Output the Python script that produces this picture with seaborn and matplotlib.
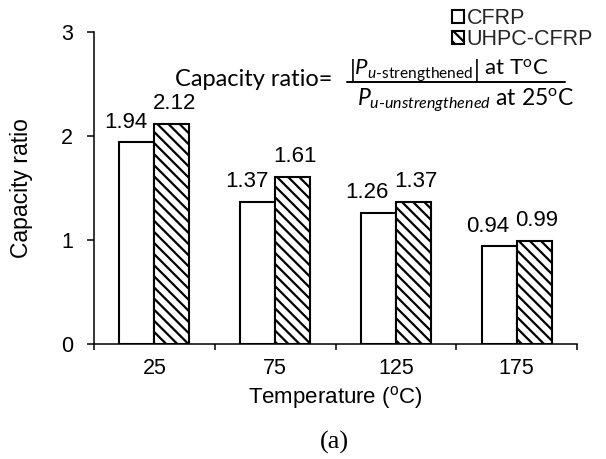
import matplotlib
matplotlib.use("Agg")
import matplotlib.pyplot as plt
import matplotlib.patches as mpatches
from matplotlib.lines import Line2D
import pandas as pd
import seaborn as sns

temperatures = ["25", "75", "125", "175"]
cfrp = [1.94, 1.37, 1.26, 0.94]
uhpc_cfrp = [2.12, 1.61, 1.37, 0.99]
series_names = ["CFRP", "UHPC-CFRP"]
y_ticks = [0, 1, 2, 3]

sns.set_theme(style="white")
plt.rcParams["font.family"] = ["Liberation Sans", "DejaVu Sans"]
plt.rcParams["mathtext.fontset"] = "custom"
plt.rcParams["mathtext.rm"] = "Lato"
plt.rcParams["mathtext.it"] = "Lato:italic"
plt.rcParams["hatch.linewidth"] = 1.6
plt.rcParams["hatch.color"] = "black"

df = pd.DataFrame({
    "Temperature": temperatures * 2,
    "ratio": cfrp + uhpc_cfrp,
    "Series": [series_names[0]] * len(cfrp) + [series_names[1]] * len(uhpc_cfrp),
})

W, H = 606, 459
fig = plt.figure(figsize=(W / 100, H / 100), dpi=100)
ax = fig.add_axes([94 / W, 1 - 344 / H, (577 - 94) / W, (344 - 32) / H])

sns.barplot(data=df, x="Temperature", y="ratio", hue="Series",
            order=temperatures, hue_order=series_names,
            palette=["white", "white"], saturation=1, edgecolor="black",
            linewidth=1.5, width=0.58, gap=0, legend=False, ax=ax)

hatch = "\\\\\\"
for bar in ax.containers[1]:
    bar.set_hatch(hatch)

# value labels, nudged sideways so neighbouring numbers don't collide
label_shift = [-8, 2]
for cont, dx in zip(ax.containers, label_shift):
    anns = ax.bar_label(cont, labels=[f"{v:.2f}" for v in cont.datavalues],
                        padding=7, fontsize=16, color="black")
    for a in anns:
        a.xyann = (dx, 7)

ax.set_ylim(0, 3)
ax.set_yticks(y_ticks)
ax.set_xlim(-0.5, len(temperatures) - 0.5)
ax.set_xticks([i - 0.5 for i in range(len(temperatures) + 1)], minor=True)
ax.tick_params(axis="x", which="major", length=0, pad=10, labelsize=15.5, colors="black")
ax.tick_params(axis="x", which="minor", length=4.5, width=1.1, direction="out", color="black", bottom=True)
ax.tick_params(axis="y", length=5, width=1.1, direction="out", pad=10, labelsize=15.5, colors="black", left=True)

for s in ["top", "right"]:
    ax.spines[s].set_visible(False)
for s in ["left", "bottom"]:
    ax.spines[s].set_color("black")
    ax.spines[s].set_linewidth(1.1)

ax.set_ylabel("Capacity ratio", fontsize=16.5, color="black", labelpad=20)
ax.set_xlabel(r"Temperature ($\mathregular{^o}$C)", fontsize=16, color="black", labelpad=4)

handles = [
    mpatches.Patch(facecolor="white", edgecolor="black", linewidth=1.5, label=series_names[0]),
    mpatches.Patch(facecolor="white", edgecolor="black", linewidth=1.5, hatch=hatch, label=series_names[1]),
]
fig.legend(handles=handles, loc="upper left", bbox_to_anchor=(452 / W, 1 - 8 / H),
           frameon=False, fontsize=15.5, handlelength=0.56, handleheight=0.56,
           handletextpad=0.12, labelspacing=0.0, borderpad=0, borderaxespad=0)

# capacity ratio definition
fig.text(175 / W, 1 - 86 / H, "Capacity ratio=", family="Lato", fontsize=17,
         ha="left", va="baseline", color="black")
fig.text(349 / W, 1 - 76 / H,
         r"$\left|P_{u\text{-strengthened}}\right|$ at T$^{\mathrm{o}}$C",
         family="Lato", fontsize=16, ha="left", va="baseline", color="black")
fig.text(357 / W, 1 - 105 / H,
         r"$P_{u\text{-}unstrengthened}$ at 25$^{\mathrm{o}}$C",
         family="Lato", fontsize=16.5, ha="left", va="baseline", color="black")
fig.add_artist(Line2D([347 / W, 565 / W], [1 - 82 / H, 1 - 82 / H],
                      transform=fig.transFigure, color="black", linewidth=1.4))

fig.text(334 / W, 1 - 442 / H, "(a)", family="Liberation Serif", fontsize=19,
         ha="center", va="center", color="black")

fig.savefig("out.png", dpi=100)
